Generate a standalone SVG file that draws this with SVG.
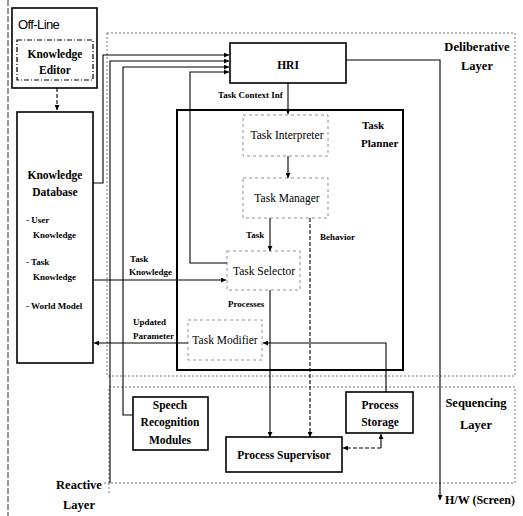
<svg xmlns="http://www.w3.org/2000/svg" width="523" height="516" viewBox="0 0 523 516" font-family="'Liberation Serif', 'Times New Roman', 'DejaVu Serif', serif">
<style>
.b{font-weight:bold}
.lbl{font-size:11.5px;text-anchor:middle}
.sm{font-size:9px;font-weight:bold}
.box{fill:#fff;stroke:#000;stroke-width:1.6}
.dbox{fill:none;stroke:#777;stroke-width:0.8;stroke-dasharray:3 3}
.layer{fill:none;stroke:#666;stroke-width:0.9;stroke-dasharray:2 2}
.c{fill:none;stroke:#000;stroke-width:1.1}
.cd{fill:none;stroke:#000;stroke-width:1.1;stroke-dasharray:4 2}
</style>
<defs>
<marker id="ah" viewBox="0 0 6 6" refX="6" refY="3" markerWidth="5" markerHeight="5" orient="auto" markerUnits="userSpaceOnUse">
<path d="M0,0 L6,3 L0,6 z" fill="#000"/>
</marker>
</defs>
<rect width="523" height="516" fill="#fff"/>

<g id="layers">
<line x1="8" y1="0" x2="8" y2="516" stroke="#333" stroke-width="1" stroke-dasharray="6 2"/>
<rect class="layer" x="107" y="33" width="408" height="343"/>
<rect class="layer" x="109" y="387" width="406" height="96"/>
<line class="layer" x1="104" y1="483" x2="109" y2="483"/>
<line class="layer" x1="109" y1="483" x2="109" y2="495"/>
<text class="b" x="477" y="51" font-size="12.5" text-anchor="middle">Deliberative</text>
<text class="b" x="477" y="70" font-size="12.5" text-anchor="middle">Layer</text>
<text class="b" x="476" y="407" font-size="12.5" text-anchor="middle">Sequencing</text>
<text class="b" x="476" y="429" font-size="12.5" text-anchor="middle">Layer</text>
<text class="b" x="79" y="489" font-size="12.5" text-anchor="middle">Reactive</text>
<text class="b" x="79" y="509" font-size="12.5" text-anchor="middle">Layer</text>
<text class="b" x="445" y="504" font-size="12">H/W (Screen)</text>
</g>

<g id="offline">
<rect class="box" x="12" y="8" width="85" height="80"/>
<text x="18" y="29" font-family="'Liberation Sans', Arial, sans-serif" font-size="13" letter-spacing="-0.6">Off-Line</text>
</g>
<g id="knowledge-editor">
<rect x="17" y="40" width="76" height="40" fill="none" stroke="#000" stroke-width="1.2" stroke-dasharray="5 2 1 2"/>
<text class="b lbl" x="55" y="58">Knowledge</text>
<text class="b lbl" x="55" y="74">Editor</text>
</g>
<g id="knowledge-database">
<rect class="box" x="17" y="112" width="76" height="251"/>
<text class="b lbl" x="55" y="179">Knowledge</text>
<text class="b lbl" x="55" y="196">Database</text>
<text class="sm" x="26" y="223" font-size="9.5">- User</text>
<text class="sm" x="33" y="238" font-size="9.5">Knowledge</text>
<text class="sm" x="26" y="265" font-size="9.5">- Task</text>
<text class="sm" x="33" y="280" font-size="9.5">Knowledge</text>
<text class="sm" x="26" y="309" font-size="9.5">- World Model</text>
</g>
<g id="hri">
<rect class="box" x="230" y="43" width="116" height="40" stroke-width="2"/>
<text class="b lbl" x="288" y="69" font-size="12">HRI</text>
</g>
<g id="task-planner">
<rect x="177" y="110" width="226" height="260" fill="none" stroke="#000" stroke-width="2"/>
<text class="b" x="362" y="129" font-size="11">Task</text>
<text class="b" x="361" y="147" font-size="11">Planner</text>
</g>
<g id="task-interpreter">
<rect class="dbox" x="243" y="115" width="85" height="41"/>
<text class="lbl" x="287" y="139">Task Interpreter</text>
</g>
<g id="task-manager">
<rect class="dbox" x="243" y="178" width="85" height="40"/>
<text class="lbl" x="287" y="202">Task Manager</text>
</g>
<g id="task-selector">
<rect class="dbox" x="227" y="251" width="73" height="39"/>
<text class="lbl" x="264" y="275">Task Selector</text>
</g>
<g id="task-modifier">
<rect class="dbox" x="188" y="320" width="74" height="40"/>
<text class="lbl" x="225" y="344">Task Modifier</text>
</g>
<g id="speech-recognition">
<rect class="box" x="133" y="397" width="75" height="53"/>
<text class="b lbl" x="170" y="409">Speech</text>
<text class="b lbl" x="170" y="426">Recognition</text>
<text class="b lbl" x="170" y="444">Modules</text>
</g>
<g id="process-storage">
<rect class="box" x="346" y="392" width="67" height="41"/>
<text class="b lbl" x="380" y="409">Process</text>
<text class="b lbl" x="380" y="426">Storage</text>
</g>
<g id="process-supervisor">
<rect class="box" x="226" y="437" width="116" height="35"/>
<text class="b lbl" x="284" y="459">Process Supervisor</text>
</g>

<g id="connectors">
<path class="cd" d="M57,88 V110" stroke-width="1.8" marker-end="url(#ah)"/>
<path class="c" d="M93,183 H103 V55 H229" marker-end="url(#ah)"/>
<path class="c" d="M110,483 V61 H229" marker-end="url(#ah)"/>
<path class="c" d="M133,415 H123 V67 H229" marker-end="url(#ah)"/>
<path class="c" d="M227,263 H190 V72 H229" marker-end="url(#ah)"/>
<path class="c" d="M346,60 H440 V500" marker-end="url(#ah)"/>
<path class="c" d="M288,83 V114" marker-end="url(#ah)"/>
<path class="c" d="M288,156 V178" marker-end="url(#ah)"/>
<path class="c" d="M270,218 V251" marker-end="url(#ah)"/>
<path class="cd" d="M310,218 V437" marker-end="url(#ah)"/>
<path class="c" d="M93,280 H226" marker-end="url(#ah)"/>
<path class="c" d="M270,290 V437" marker-end="url(#ah)"/>
<path class="c" d="M386,392 V343 H263" marker-end="url(#ah)"/>
<path class="c" d="M188,343 H94" marker-end="url(#ah)"/>
<path class="c" d="M381,448 V434" marker-end="url(#ah)"/>
<path class="cd" d="M381,448 H343" stroke-width="0.9" marker-end="url(#ah)"/>
<text class="sm" x="218" y="98">Task Context Inf</text>
<text class="sm" x="246" y="238">Task</text>
<text class="sm" x="320" y="240">Behavior</text>
<text class="sm" x="130" y="262">Task</text>
<text class="sm" x="129" y="275">Knowledge</text>
<text class="sm" x="228" y="307">Processes</text>
<text class="sm" x="133" y="325">Updated</text>
<text class="sm" x="133" y="339">Parameter</text>
</g>
</svg>
